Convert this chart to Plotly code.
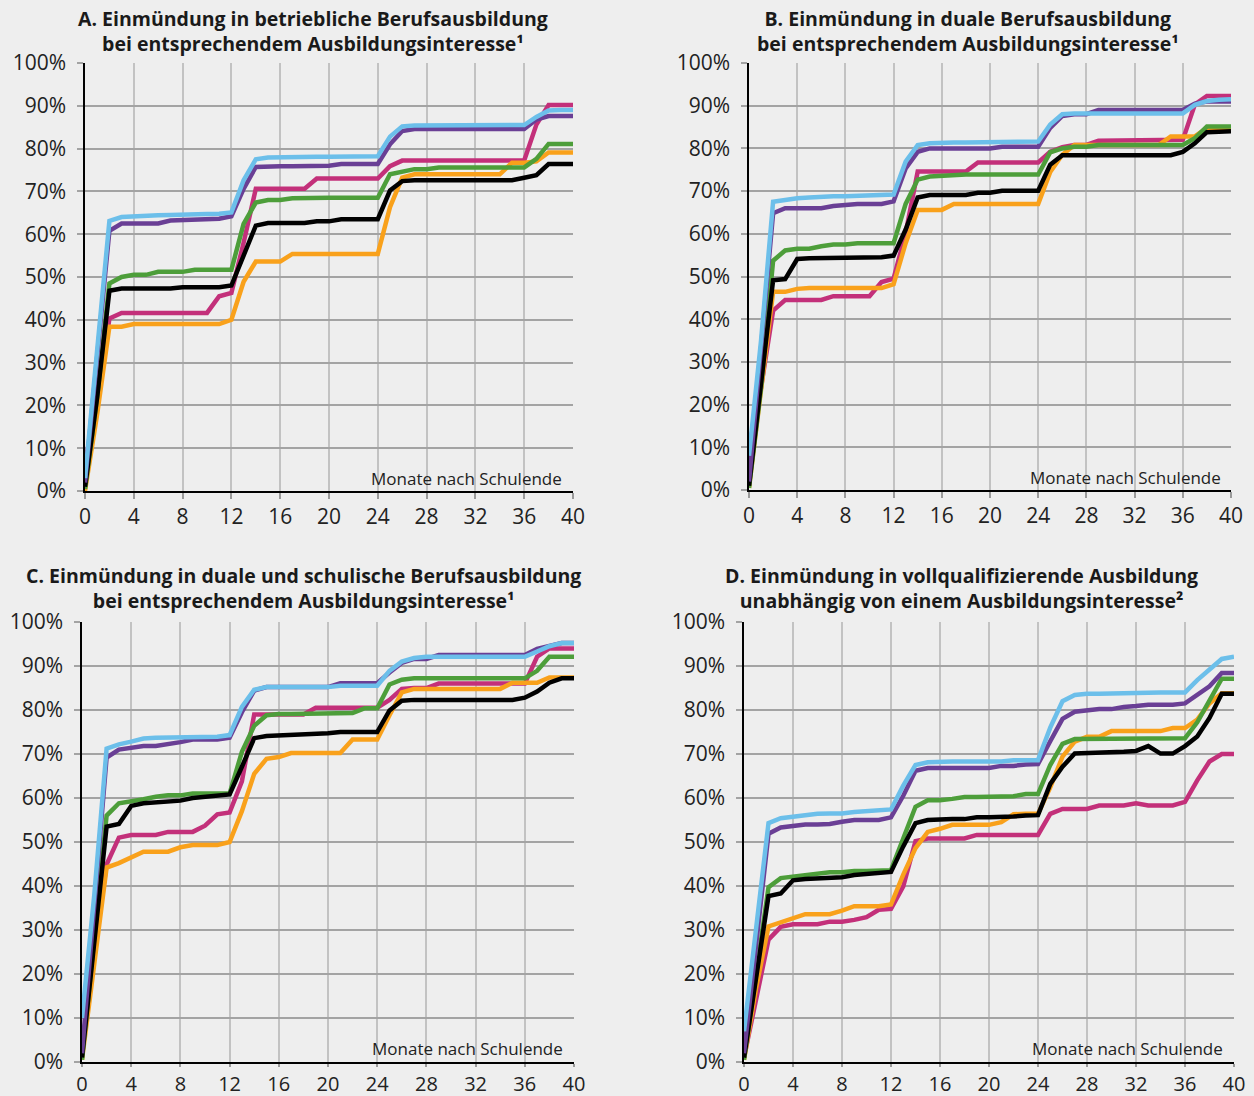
import plotly.graph_objects as go

months = list(range(41))
x_ticks = list(range(0, 41, 4))
y_ticks = list(range(0, 101, 10))
y_tick_labels = [f"{v}%" for v in y_ticks]

# ---------- Panel A ----------
A_blue = [3, 33, 63.1, 64.0, 64.2, 64.4, 64.4, 64.5, 64.5, 64.7, 64.7, 64.8, 65.1, 72.6, 77.5, 77.9, 78.0, 78.1, 78.1, 78.1, 78.1,
          78.1, 78.2, 78.2, 78.2, 82.8, 85.2, 85.4, 85.4, 85.4, 85.4, 85.4, 85.5, 85.5, 85.5, 85.5, 85.5, 87.4, 88.9, 89.0, 89.0]
A_purple = [2, 31, 60.8, 62.5, 62.5, 62.5, 62.5, 63.2, 63.3, 63.6, 63.6, 63.6, 64.2, 70.6, 75.7, 75.9, 75.9, 75.9, 75.9, 75.9, 76.0,
            76.4, 76.4, 76.4, 76.4, 81.0, 84.1, 84.6, 84.6, 84.6, 84.6, 84.6, 84.6, 84.6, 84.6, 84.6, 84.6, 86.8, 87.6, 87.6, 87.6]
A_pink = [7, 20, 40.3, 41.6, 41.6, 41.6, 41.6, 41.6, 41.6, 41.6, 41.6, 45.5, 46.3, 58.0, 70.6, 70.6, 70.6, 70.6, 70.6, 73.0, 73.0,
          73.0, 73.0, 73.0, 73.0, 75.9, 77.2, 77.2, 77.2, 77.2, 77.2, 77.2, 77.2, 77.2, 77.2, 77.2, 77.2, 85.6, 90.2, 90.2, 90.2]
A_green = [0.5, 22, 48.5, 50.0, 50.5, 50.5, 51.2, 51.2, 51.2, 51.7, 51.7, 51.7, 51.7, 62.4, 67.4, 68.0, 68.0, 68.4, 68.5, 68.5, 68.5,
           68.5, 68.5, 68.5, 68.5, 74.0, 74.6, 75.2, 75.2, 75.6, 75.6, 75.6, 75.6, 75.6, 75.6, 75.6, 75.6, 77.6, 81.1, 81.1, 81.1]
A_black = [1, 22, 46.8, 47.3, 47.3, 47.3, 47.3, 47.3, 47.6, 47.6, 47.6, 47.6, 48.0, 55.2, 62.0, 62.6, 62.6, 62.6, 62.6, 63.0, 63.0,
           63.5, 63.5, 63.5, 63.5, 70.2, 72.4, 72.6, 72.6, 72.6, 72.6, 72.6, 72.6, 72.6, 72.6, 72.6, 73.2, 73.8, 76.4, 76.4, 76.4]
A_orange = [0, 18, 38.4, 38.4, 39.0, 39.0, 39.0, 39.0, 39.0, 39.0, 39.0, 39.0, 40.0, 48.9, 53.6, 53.6, 53.6, 55.4, 55.4, 55.4, 55.4,
            55.4, 55.4, 55.4, 55.4, 66.3, 73.2, 74.0, 74.0, 74.0, 74.0, 74.0, 74.0, 74.0, 74.0, 76.7, 76.7, 77.0, 79.1, 79.1, 79.1]

# ---------- Panel B ----------
B_blue = [8, 35, 67.5, 68.0, 68.3, 68.5, 68.7, 68.8, 68.8, 68.9, 68.9, 68.9, 69.2, 76.9, 80.8, 81.2, 81.4, 81.4, 81.4, 81.4, 81.4,
          81.6, 81.6, 81.6, 81.6, 85.6, 88.0, 88.2, 88.2, 88.2, 88.2, 88.2, 88.2, 88.2, 88.2, 88.2, 88.2, 90.2, 91.1, 91.4, 91.5]
B_purple = [2, 33, 64.8, 66.0, 66.0, 66.0, 66.0, 66.5, 66.8, 67.0, 67.0, 67.0, 67.6, 75.3, 79.2, 80.0, 80.0, 80.0, 80.0, 80.0, 80.0,
            80.4, 80.4, 80.4, 80.4, 84.8, 87.6, 88.0, 88.0, 89.0, 89.0, 89.0, 89.0, 89.0, 89.0, 89.0, 89.0, 90.5, 91.0, 91.0, 91.0]
B_pink = [10, 24, 42.0, 44.5, 44.5, 44.5, 44.5, 45.4, 45.4, 45.4, 45.4, 48.7, 49.5, 60.2, 74.6, 74.6, 74.6, 74.6, 74.6, 76.7, 76.7,
          76.7, 76.7, 76.7, 76.7, 79.2, 80.3, 80.8, 80.8, 81.8, 81.8, 81.8, 81.8, 81.8, 81.8, 81.8, 82.0, 90.3, 92.3, 92.3, 92.3]
B_green = [0.5, 24, 53.7, 56.1, 56.5, 56.5, 57.1, 57.5, 57.5, 57.8, 57.8, 57.8, 57.8, 67.0, 72.7, 73.4, 73.6, 73.9, 73.9, 73.9, 73.9,
           73.9, 73.9, 73.9, 73.9, 79.1, 80.0, 80.4, 80.4, 80.8, 80.8, 80.8, 80.8, 80.8, 80.8, 80.8, 80.8, 82.4, 85.1, 85.1, 85.1]
B_black = [1, 25, 49.1, 49.4, 54.1, 54.3, 54.3, 54.3, 54.5, 54.5, 54.5, 54.5, 54.9, 61.0, 68.5, 69.1, 69.1, 69.1, 69.1, 69.6, 69.6,
           70.1, 70.1, 70.1, 70.1, 76.2, 78.4, 78.4, 78.4, 78.4, 78.4, 78.4, 78.4, 78.4, 78.4, 78.4, 79.2, 81.2, 83.8, 84.0, 84.0]
B_orange = [0.5, 23, 46.4, 46.4, 47.1, 47.3, 47.3, 47.3, 47.3, 47.3, 47.3, 47.3, 48.2, 57.8, 65.6, 65.6, 65.6, 67.0, 67.0, 67.0, 67.0,
            67.0, 67.0, 67.0, 67.0, 74.5, 78.5, 80.8, 80.8, 80.8, 80.8, 80.8, 80.8, 80.8, 80.8, 82.8, 82.8, 82.8, 84.8, 84.8, 84.8]

# ---------- Panel C ----------
C_blue = [10, 38, 71.2, 72.2, 72.8, 73.5, 73.7, 73.7, 73.7, 73.9, 73.9, 73.9, 74.3, 80.7, 84.6, 85.2, 85.2, 85.2, 85.2, 85.2, 85.2,
          85.5, 85.5, 85.5, 85.5, 88.9, 91.0, 91.8, 92.1, 92.1, 92.1, 92.1, 92.1, 92.1, 92.1, 92.1, 92.1, 93.3, 94.5, 95.2, 95.2]
C_purple = [2, 36, 69.2, 71.0, 71.5, 71.8, 71.8, 72.2, 72.7, 73.3, 73.3, 73.3, 73.7, 79.5, 84.4, 85.2, 85.2, 85.2, 85.2, 85.2, 85.2,
            86.1, 86.1, 86.1, 86.1, 88.5, 90.7, 91.6, 91.6, 92.5, 92.5, 92.5, 92.5, 92.5, 92.5, 92.5, 92.5, 93.9, 94.6, 95.2, 95.2]
C_pink = [3, 25, 44.9, 51.0, 51.6, 51.6, 51.6, 52.3, 52.3, 52.3, 53.7, 56.3, 56.7, 63.8, 79.0, 79.0, 79.0, 79.0, 79.0, 80.5, 80.5,
          80.5, 80.5, 80.5, 80.5, 82.3, 84.8, 85.0, 85.0, 86.0, 86.0, 86.0, 86.0, 86.0, 86.0, 86.0, 86.0, 92.1, 94.0, 94.0, 94.0]
C_green = [0.5, 28, 56.0, 58.8, 59.2, 59.7, 60.3, 60.6, 60.6, 61.0, 61.0, 61.0, 61.0, 70.5, 76.4, 78.8, 79.1, 79.1, 79.1, 79.1, 79.1,
           79.3, 79.3, 80.4, 80.4, 85.8, 86.9, 87.2, 87.2, 87.2, 87.2, 87.2, 87.2, 87.2, 87.2, 87.2, 87.2, 88.9, 92.1, 92.1, 92.1]
C_black = [1, 27, 53.5, 54.1, 58.2, 58.8, 59.0, 59.0, 59.4, 60.0, 60.3, 60.5, 60.8, 67.1, 73.6, 74.1, 74.2, 74.3, 74.4, 74.6, 74.7,
           75.0, 75.0, 75.0, 75.0, 79.9, 82.1, 82.3, 82.3, 82.3, 82.3, 82.3, 82.3, 82.3, 82.3, 82.3, 82.8, 84.2, 86.2, 87.2, 87.2]
C_orange = [0.5, 22, 44.2, 45.2, 46.6, 47.8, 47.8, 47.8, 48.8, 49.3, 49.3, 49.3, 50.0, 57.0, 65.5, 68.9, 69.3, 70.2, 70.2, 70.2, 70.2,
            70.2, 73.3, 73.3, 73.3, 78.8, 84.0, 84.8, 84.8, 84.8, 84.8, 84.8, 84.8, 84.8, 84.8, 86.2, 86.2, 86.2, 87.4, 87.4, 87.4]

# ---------- Panel D ----------
D_blue = [7, 30, 54.3, 55.4, 55.8, 56.1, 56.4, 56.5, 56.5, 56.8, 57.0, 57.1, 57.4, 62.8, 67.5, 68.1, 68.3, 68.3, 68.3, 68.3, 68.3,
          68.3, 68.6, 68.6, 68.6, 76.0, 82.0, 83.4, 83.7, 83.7, 83.8, 83.8, 83.9, 83.9, 84.0, 84.0, 84.0, 86.8, 89.3, 91.6, 92.1]
D_purple = [2, 28, 51.9, 53.3, 53.7, 54.0, 54.0, 54.1, 54.6, 55.0, 55.0, 55.0, 55.6, 60.5, 66.2, 66.8, 66.8, 66.8, 66.8, 66.8, 66.8,
            67.3, 67.3, 67.6, 67.7, 72.9, 78.0, 79.6, 79.9, 80.2, 80.2, 80.7, 80.9, 81.2, 81.2, 81.2, 81.5, 83.4, 85.4, 88.4, 88.4]
D_pink = [1, 14, 27.8, 30.7, 31.3, 31.3, 31.3, 31.9, 31.9, 32.3, 32.9, 34.6, 34.8, 39.9, 50.2, 50.8, 50.8, 50.8, 50.8, 51.6, 51.6,
          51.6, 51.6, 51.6, 51.6, 56.4, 57.5, 57.5, 57.5, 58.3, 58.3, 58.3, 58.8, 58.3, 58.3, 58.3, 59.1, 64.0, 68.3, 70.0, 70.0]
D_green = [0.5, 20, 39.7, 41.8, 42.1, 42.4, 42.8, 43.1, 43.1, 43.4, 43.4, 43.4, 43.6, 50.8, 58.0, 59.5, 59.5, 59.8, 60.2, 60.2, 60.2,
           60.2, 60.4, 60.9, 60.9, 67.5, 72.3, 73.4, 73.4, 73.4, 73.4, 73.4, 73.4, 73.4, 73.6, 73.6, 73.6, 77.2, 82.3, 87.1, 87.1]
D_black = [1, 19, 37.7, 38.3, 41.3, 41.6, 41.8, 41.8, 42.0, 42.5, 42.7, 42.8, 43.2, 49.0, 54.3, 55.0, 55.2, 55.2, 55.2, 55.6, 55.6,
           55.6, 55.8, 56.0, 56.1, 63.2, 67.1, 70.1, 70.2, 70.2, 70.2, 70.5, 70.7, 71.8, 70.1, 70.1, 71.8, 74.0, 78.2, 83.7, 83.7]
D_orange = [0.5, 17, 30.8, 31.7, 32.8, 33.6, 33.6, 33.6, 34.4, 35.4, 35.4, 35.4, 35.8, 42.6, 48.6, 52.3, 53.0, 53.9, 53.9, 53.9, 53.9,
            54.5, 56.3, 56.4, 56.4, 62.4, 69.4, 72.8, 73.9, 73.9, 75.2, 75.2, 75.2, 75.2, 75.2, 75.9, 75.9, 77.8, 81.5, 83.8, 83.8]

titles = [
    ("A. Einmündung in betriebliche Berufsausbildung", "bei entsprechendem Ausbildungsinteresse¹"),
    ("B. Einmündung in duale Berufsausbildung", "bei entsprechendem Ausbildungsinteresse¹"),
    ("C. Einmündung in duale und schulische Berufsausbildung", "bei entsprechendem Ausbildungsinteresse¹"),
    ("D. Einmündung in vollqualifizierende Ausbildung", "unabhängig von einem Ausbildungsinteresse²"),
]
axis_label = "Monate nach Schulende"

panels = [
    dict(pink=A_pink, orange=A_orange, green=A_green, black=A_black, purple=A_purple, blue=A_blue),
    dict(pink=B_pink, orange=B_orange, green=B_green, black=B_black, purple=B_purple, blue=B_blue),
    dict(pink=C_pink, orange=C_orange, green=C_green, black=C_black, purple=C_purple, blue=C_blue),
    dict(pink=D_pink, orange=D_orange, green=D_green, black=D_black, purple=D_purple, blue=D_blue),
]
colors = dict(pink="#C3307A", orange="#F9A11B", green="#4D9E3A", black="#000000",
              purple="#6A3F95", blue="#6CBFEA")

W, H = 1254, 1096
# plot-area pixel boxes: (x0, x1, ytop, ybottom)
boxes = [(85, 573, 63, 491), (749, 1231, 63, 490), (82, 574, 622, 1062), (744, 1234, 622, 1062)]
title_pos = [(313, 30.5), (968, 30.5), (303, 587.5), (961, 587.5)]

fig = go.Figure()
layout = dict(width=W, height=H, autosize=False, margin=dict(l=0, r=0, t=0, b=0, pad=0, autoexpand=False),
              paper_bgcolor="#EEEEEE", plot_bgcolor="#EEEEEE", showlegend=False,
              font=dict(family="Open Sans", color="#222222"))
annotations = []
for i, (box, data) in enumerate(zip(boxes, panels)):
    n = "" if i == 0 else str(i + 1)
    bottom_row = i >= 2
    x0, x1, yt, yb = box
    xd = [x0 / W, x1 / W]
    yd = [1 - yb / H, 1 - yt / H]
    layout["xaxis" + n] = dict(domain=xd, anchor="y" + n, range=[0, 40], tickvals=x_ticks,
                               showgrid=True, gridcolor="#C2C2C2", gridwidth=1.5,
                               showline=True, linecolor="#000000", linewidth=1.5,
                               ticks="outside", ticklen=3 if bottom_row else 6,
                               tickcolor="#9A9A9A", tickwidth=1.5,
                               tickfont=dict(size=20 if bottom_row else 21, color="#222222"), zeroline=False,
                               automargin=False, fixedrange=True)
    layout["yaxis" + n] = dict(domain=yd, anchor="x" + n, range=[0, 100], tickvals=y_ticks,
                               ticktext=y_tick_labels, showgrid=True, gridcolor="#A3A3A3", gridwidth=2,
                               showline=True, linecolor="#000000", linewidth=1.5,
                               ticks="outside", ticklen=6, tickcolor="#A3A3A3", tickwidth=2,
                               ticklabelstandoff=7,
                               tickfont=dict(size=21, color="#222222"), zeroline=False,
                               automargin=False, fixedrange=True)
    for key in ["pink", "orange", "green", "black", "purple", "blue"]:
        fig.add_trace(go.Scatter(x=months, y=data[key], mode="lines", xaxis="x" + n, yaxis="y" + n,
                                 line=dict(color=colors[key], width=4.5), hoverinfo="skip"))
    annotations.append(dict(x=39.3, y=3.0, xref="x" + n, yref="y" + n, text=axis_label,
                            showarrow=False, xanchor="right", yanchor="middle",
                            font=dict(size=17, color="#222222")))
    tx, ty = title_pos[i]
    annotations.append(dict(x=tx / W, y=1 - ty / H, xref="paper", yref="paper",
                            text="<b>" + titles[i][0] + "</b><br><b>" + titles[i][1] + "</b>",
                            showarrow=False, xanchor="center", yanchor="middle", align="center",
                            font=dict(size=19.5, color="#1A1A1A")))
layout["annotations"] = annotations
fig.update_layout(**layout)
fig.write_html("out.html", config={"displayModeBar": False},
               post_script="document.body.style.margin='0';document.body.style.overflow='hidden';document.body.style.background='#EEEEEE';")
